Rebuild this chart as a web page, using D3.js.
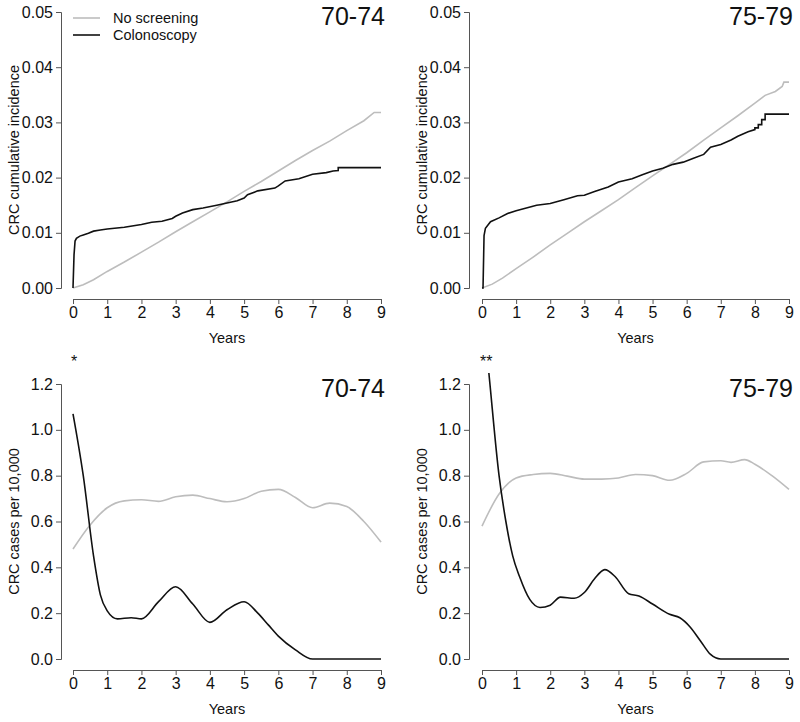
<!DOCTYPE html>
<meta charset="utf-8" />
<script src="https://d3js.org/d3.v7.min.js"></script>
<style>
  body { margin: 0; background: #fff; }
  text { font-family: "Liberation Sans", Arial, sans-serif; fill: #111; }
  .axis path, .axis line { stroke: #555; }
</style>
<body>
<svg id="chart" width="800" height="722"></svg>
<script>
// ---- data ----
const yearTicks = [0, 1, 2, 3, 4, 5, 6, 7, 8, 9];
const cumTicks = [0, 0.01, 0.02, 0.03, 0.04, 0.05];
const rateTicks = [0, 0.2, 0.4, 0.6, 0.8, 1.0, 1.2];

// cumulative incidence, 70-74
const cum7074NoX = [0, 0.3, 0.6, 1, 1.5, 2, 2.5, 3, 3.5, 4, 4.5, 5, 5.5, 6, 6.5, 7, 7.5, 8, 8.5, 8.8, 9];
const cum7074NoY = [0, 0.0006, 0.0015, 0.003, 0.0047, 0.0065, 0.0083, 0.0102, 0.012, 0.0138, 0.0156, 0.0175, 0.0193, 0.0212, 0.0231, 0.0249, 0.0266, 0.0285, 0.0303, 0.0318, 0.0318];
const cum7074ColX = [0, 0.03, 0.06, 0.1, 0.2, 0.3, 0.45, 0.6, 0.8, 1, 1.5, 2, 2.3, 2.6, 2.9, 3.0, 3.2, 3.5, 3.8, 4.2, 4.5, 4.8, 5.0, 5.1, 5.4, 5.9, 6.0, 6.2, 6.6, 7.0, 7.4, 7.6, 7.75, 7.75, 9];
const cum7074ColY = [0, 0.006, 0.0085, 0.009, 0.0094, 0.0096, 0.0099, 0.0103, 0.0105, 0.0107, 0.011, 0.0115, 0.0119, 0.0121, 0.0126, 0.013, 0.0136, 0.0142, 0.0145, 0.015, 0.0154, 0.0158, 0.0163, 0.0169, 0.0176, 0.0181, 0.0185, 0.0194, 0.0198, 0.0206, 0.0209, 0.0212, 0.0213, 0.0218, 0.0218];

// cumulative incidence, 75-79
const cum7579NoX = [0, 0.3, 0.6, 1, 1.5, 2, 2.5, 3, 3.5, 4, 4.5, 5, 5.5, 6, 6.5, 7, 7.5, 8, 8.3, 8.6, 8.8, 8.85, 9];
const cum7579NoY = [0, 0.0007, 0.0018, 0.0035, 0.0056, 0.0078, 0.0099, 0.012, 0.014, 0.016, 0.0182, 0.0203, 0.0224, 0.0245, 0.0268, 0.029, 0.0312, 0.0335, 0.0349, 0.0356, 0.0365, 0.0373, 0.0373];
const cum7579ColX = [0, 0.03, 0.06, 0.1, 0.25, 0.5, 0.75, 1, 1.3, 1.6, 2, 2.4, 2.8, 3.0, 3.3, 3.7, 4.0, 4.4, 4.7, 5.0, 5.3, 5.6, 5.9, 6.2, 6.5, 6.7, 7.0, 7.3, 7.5, 7.8, 8.0, 8.0, 8.1, 8.1, 8.2, 8.2, 8.3, 8.3, 9];
const cum7579ColY = [0, 0.0, 0.0095, 0.0108, 0.012, 0.0127, 0.0135, 0.014, 0.0145, 0.015, 0.0153, 0.016, 0.0167, 0.0168, 0.0175, 0.0183, 0.0192, 0.0198, 0.0205, 0.0212, 0.0217, 0.0224, 0.0228, 0.0235, 0.0242, 0.0255, 0.026, 0.0268, 0.0275, 0.0283, 0.0287, 0.029, 0.029, 0.0296, 0.0296, 0.0305, 0.0305, 0.0315, 0.0315];

// cases per 10,000, 70-74
const rate7074NoX = [0, 0.5, 1, 1.5, 2, 2.5, 3, 3.5, 4, 4.5, 5, 5.5, 6, 6.5, 7, 7.5, 8, 8.5, 9];
const rate7074NoY = [0.48, 0.585, 0.66, 0.69, 0.695, 0.688, 0.708, 0.715, 0.70, 0.686, 0.70, 0.732, 0.74, 0.705, 0.66, 0.68, 0.665, 0.60, 0.51];
const rate7074ColX = [0, 0.3, 0.6, 0.8, 1, 1.3, 1.7, 2, 2.5, 3, 3.5, 4, 4.5, 5, 5.4, 5.7, 6, 6.5, 7, 8, 9];
const rate7074ColY = [1.07, 0.80, 0.45, 0.28, 0.21, 0.175, 0.18, 0.175, 0.25, 0.315, 0.24, 0.16, 0.215, 0.25, 0.2, 0.15, 0.10, 0.04, 0.0, 0.0, 0.0];

// cases per 10,000, 75-79
const rate7579NoX = [0, 0.5, 1, 1.5, 2, 2.5, 3, 3.5, 4, 4.5, 5, 5.5, 6, 6.5, 7, 7.3, 7.7, 8, 8.5, 9];
const rate7579NoY = [0.58, 0.72, 0.79, 0.805, 0.81, 0.798, 0.785, 0.785, 0.79, 0.805, 0.80, 0.78, 0.81, 0.86, 0.865, 0.858, 0.87, 0.85, 0.80, 0.74];
const rate7579ColX = [0, 0.2, 0.5, 0.7, 0.9, 1.1, 1.4, 1.7, 2, 2.3, 2.7, 3, 3.3, 3.6, 3.9, 4.3, 4.6, 5, 5.5, 5.8, 6.1, 6.4, 6.7, 7, 8, 9];
const rate7579ColY = [1.55, 1.25, 0.80, 0.60, 0.45, 0.36, 0.26, 0.225, 0.235, 0.27, 0.265, 0.29, 0.35, 0.39, 0.36, 0.285, 0.275, 0.24, 0.195, 0.18, 0.14, 0.08, 0.02, 0.0, 0.0, 0.0];

const zip = (xs, ys) => xs.map((x, i) => [x, ys[i]]);

const svg = d3.select("#chart");

const panels = [
  { id: "p1", left: 73, right: 381, top: 12, bottom: 288, axisX: 61, axisY: 299,
    dom: [0, 0.05], ticks: cumTicks, fmt: d3.format(".2f"), title: "70-74", ylab: "CRC cumulative incidence",
    no: zip(cum7074NoX, cum7074NoY), col: zip(cum7074ColX, cum7074ColY), smooth: false, legend: true, star: "" },
  { id: "p2", left: 482, right: 789, top: 12, bottom: 288, axisX: 469, axisY: 299,
    dom: [0, 0.05], ticks: cumTicks, fmt: d3.format(".2f"), title: "75-79", ylab: "CRC cumulative incidence",
    no: zip(cum7579NoX, cum7579NoY), col: zip(cum7579ColX, cum7579ColY), smooth: false, legend: false, star: "" },
  { id: "p3", left: 73, right: 381, top: 384, bottom: 659, axisX: 61, axisY: 670,
    dom: [0, 1.2], ticks: rateTicks, fmt: d3.format(".1f"), title: "70-74", ylab: "CRC cases per 10,000",
    no: zip(rate7074NoX, rate7074NoY), col: zip(rate7074ColX, rate7074ColY), smooth: true, legend: false, star: "*" },
  { id: "p4", left: 482, right: 789, top: 384, bottom: 659, axisX: 469, axisY: 670,
    dom: [0, 1.2], ticks: rateTicks, fmt: d3.format(".1f"), title: "75-79", ylab: "CRC cases per 10,000",
    no: zip(rate7579NoX, rate7579NoY), col: zip(rate7579ColX, rate7579ColY), smooth: true, legend: false, star: "**" }
];

panels.forEach(p => {
  const x = d3.scaleLinear().domain([0, 9]).range([p.left, p.right]);
  const y = d3.scaleLinear().domain(p.dom).range([p.bottom, p.top]);
  const pad = (p.dom[1] - p.dom[0]) * 0.04;

  // clip to the R-style plot region (4% beyond data range)
  svg.append("clipPath").attr("id", "clip-" + p.id)
    .append("rect")
    .attr("x", x(-0.36)).attr("y", y(p.dom[1] + pad))
    .attr("width", x(9.36) - x(-0.36))
    .attr("height", y(p.dom[0] - pad) - y(p.dom[1] + pad));

  // x axis
  const gx = svg.append("g").attr("class", "axis")
    .attr("transform", `translate(0,${p.axisY})`)
    .call(d3.axisBottom(x).tickValues(yearTicks).tickSizeOuter(0).tickSize(5).tickPadding(3).tickFormat(d3.format("d")));
  gx.selectAll("text").attr("font-size", 16).style("font-family", "Liberation Sans, Arial, sans-serif").attr("fill", "#111");

  // y axis
  const gy = svg.append("g").attr("class", "axis")
    .attr("transform", `translate(${p.axisX},0)`)
    .call(d3.axisLeft(y).tickValues(p.ticks).tickSizeOuter(0).tickSize(5).tickPadding(3).tickFormat(p.fmt));
  gy.selectAll("text").attr("font-size", 16).style("font-family", "Liberation Sans, Arial, sans-serif").attr("fill", "#111");

  // axis labels
  svg.append("text")
    .attr("x", (p.left + p.right) / 2).attr("y", p.axisY + 44)
    .attr("text-anchor", "middle").attr("font-size", 14.5).text("Years");
  svg.append("text")
    .attr("transform", `translate(${p.axisX - 42.5},${(p.top + p.bottom) / 2}) rotate(-90)`)
    .attr("text-anchor", "middle").attr("font-size", 14.5).text(p.ylab);

  // panel title
  svg.append("text")
    .attr("x", p.right + 4).attr("y", p.top + 13)
    .attr("text-anchor", "end").attr("font-size", 25).text(p.title);

  if (p.star) {
    svg.append("text").attr("x", p.left - 2).attr("y", p.top - 17)
      .attr("font-size", 16).text(p.star);
  }

  const line = d3.line()
    .x(d => x(d[0])).y(d => y(d[1]))
    .curve(p.smooth ? d3.curveMonotoneX : d3.curveLinear);

  const g = svg.append("g").attr("clip-path", `url(#clip-${p.id})`);
  g.append("path").datum(p.no).attr("d", line)
    .attr("fill", "none").attr("stroke", "#bdbdbd").attr("stroke-width", 1.6);
  g.append("path").datum(p.col).attr("d", line)
    .attr("fill", "none").attr("stroke", "#111").attr("stroke-width", 1.6);

  if (p.legend) {
    const items = [["No screening", "#bdbdbd"], ["Colonoscopy", "#111"]];
    items.forEach((it, i) => {
      const ly = 18 + i * 17;
      svg.append("line").attr("x1", 73).attr("x2", 100).attr("y1", ly).attr("y2", ly)
        .attr("stroke", it[1]).attr("stroke-width", 1.6);
      svg.append("text").attr("x", 113).attr("y", ly + 5)
        .attr("font-size", 14.5).text(it[0]);
    });
  }
});
</script>
</body>
